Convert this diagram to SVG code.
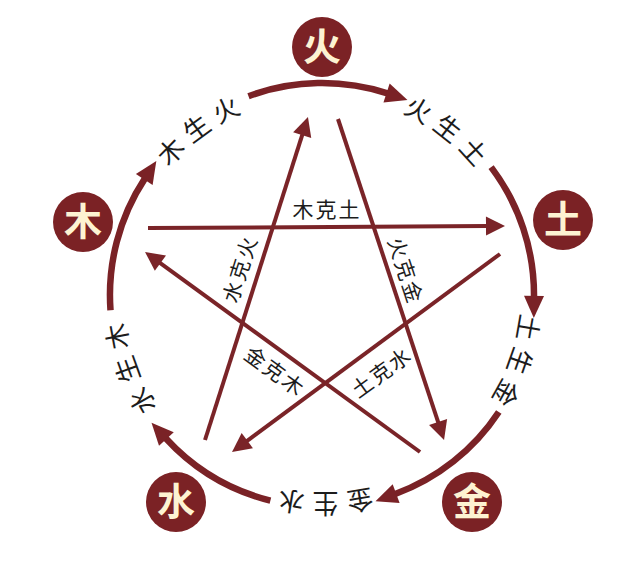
<svg xmlns="http://www.w3.org/2000/svg" width="640" height="573" viewBox="0 0 640 573">
<style>
.arc{fill:none;stroke:#7a2226;stroke-width:6.5}
.star{fill:none;stroke:#7a2428;stroke-width:4}
.node circle{fill:#7b2225}
.node text{fill:#fdf3d2;font-family:"Noto Sans CJK SC",sans-serif;font-weight:bold;font-size:38px;text-anchor:middle}
.lbl{fill:#1c1c1c;font-family:"Noto Sans CJK SC",sans-serif;font-size:26px;letter-spacing:7px}
.klbl{fill:#1c1c1c;font-family:"Noto Sans CJK SC",sans-serif;font-size:21px;letter-spacing:2px;text-anchor:middle}
</style>
<defs>
<marker id="ah" markerUnits="userSpaceOnUse" viewBox="-1 -11 25 22" markerWidth="25" markerHeight="22" refX="1" refY="0" orient="auto">
<path d="M0,-10 L22,0 L0,10 z" fill="#7a2226"/>
</marker>
<marker id="sh" markerUnits="userSpaceOnUse" viewBox="-1 -10 21 20" markerWidth="21" markerHeight="20" refX="1" refY="0" orient="auto">
<path d="M0,-9.5 L19,0 L0,9.5 z" fill="#7a2428"/>
</marker>
<path id="p1" d="M124.1,315.8 A199,199 0 0 1 402.9,113.2"/>
<path id="p2" d="M247.5,110.5 A199,199 0 0 1 519.1,322.7"/>
<path id="p3" d="M473.3,165.8 A199,199 0 0 1 358.3,490.7"/>
<path id="p4" d="M494.3,394.5 A199,199 0 0 1 149.7,394.5"/>
<path id="p5" d="M287.4,491.0 A199,199 0 0 1 169.6,167.1"/>
</defs>
<rect width="640" height="573" fill="#ffffff"/>
<g id="connectors">
<path class="arc" marker-end="url(#ah)" d="M248.5,96.2 A212,212 0 0 1 387.5,93.4"/>
<path class="arc" marker-end="url(#ah)" d="M491.1,167.1 A212,212 0 0 1 534.0,296.9"/>
<path class="arc" marker-end="url(#ah)" d="M498.8,412.0 A212,212 0 0 1 395.2,494.0"/>
<path class="arc" marker-end="url(#ah)" d="M270.4,500.6 A212,212 0 0 1 165.7,438.2"/>
<path class="arc" marker-end="url(#ah)" d="M110.5,310.2 A212,212 0 0 1 144.8,178.6"/>
<path class="star" marker-end="url(#sh)" d="M205,440 L302.5,134.2"/>
<path class="star" marker-end="url(#sh)" d="M338,119 L438.4,422.9"/>
<path class="star" marker-end="url(#sh)" d="M148,228 L487,226.1"/>
<path class="star" marker-end="url(#sh)" d="M500,254 L246.5,441.3"/>
<path class="star" marker-end="url(#sh)" d="M420,452 L159.6,262.6"/>
</g>
<g id="cycle-labels">
<text class="lbl"><textPath href="#p1" startOffset="50%" text-anchor="middle">木生火</textPath></text>
<text class="lbl"><textPath href="#p2" startOffset="50%" text-anchor="middle">火生土</textPath></text>
<text class="lbl"><textPath href="#p3" startOffset="50%" text-anchor="middle">土生金</textPath></text>
<text class="lbl"><textPath href="#p4" startOffset="50%" text-anchor="middle">金生水</textPath></text>
<text class="lbl"><textPath href="#p5" startOffset="50%" text-anchor="middle">水生木</textPath></text>
</g>
<g id="control-labels">
<text class="klbl" x="327" y="217">木克土</text>
<text class="klbl" transform="translate(240,270) rotate(-72.3)" x="1" y="7.5">水克火</text>
<text class="klbl" transform="translate(405,270) rotate(71.8)" x="1" y="7.5">火克金</text>
<text class="klbl" transform="translate(274,371) rotate(36)" x="1" y="7.5">金克木</text>
<text class="klbl" transform="translate(381,373) rotate(-36)" x="1" y="7.5">土克水</text>
</g>
<g id="node-fire" class="node"><circle cx="322" cy="47" r="30"/><text x="322" y="60">火</text></g>
<g id="node-wood" class="node"><circle cx="83" cy="222" r="30"/><text x="83" y="235">木</text></g>
<g id="node-earth" class="node"><circle cx="563" cy="220" r="30"/><text x="563" y="233">土</text></g>
<g id="node-water" class="node"><circle cx="176" cy="502" r="30"/><text x="176" y="515">水</text></g>
<g id="node-metal" class="node"><circle cx="472" cy="502" r="30"/><text x="472" y="515">金</text></g>
</svg>
